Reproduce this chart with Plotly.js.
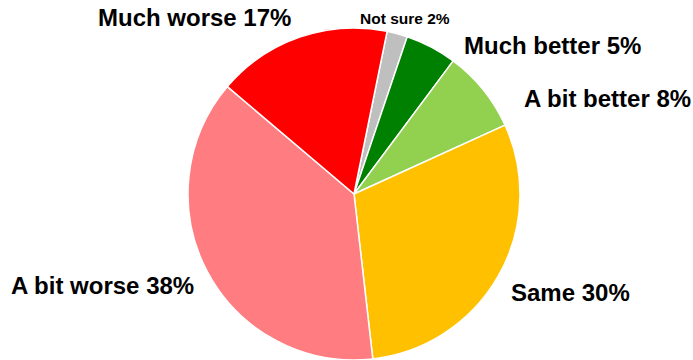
<!DOCTYPE html>
<html>
<head>
<meta charset="utf-8">
<script src="https://cdn.plot.ly/plotly-3.0.1.min.js"></script>
<style>html,body{margin:0;padding:0;background:#fff;}#chart{width:693px;height:360px;}</style>
</head>
<body>
<div id="chart"></div>
<script>
const labels = ["Not sure", "Much better", "A bit better", "Same", "A bit worse", "Much worse"];
const values = [2, 5, 8, 30, 38, 17];
const colors = ["#bfbfbf", "#008000", "#92d050", "#ffc000", "#ff7c80", "#ff0000"];
// label placement (pixels) and font size per label
const labelX = [405, 552.5, 607, 570, 102, 194.5];
const labelY = [18.5, 45, 98.5, 292, 285.5, 17.5];
const labelSize = [15.5, 24, 24, 24, 24, 24];

const W = 693, H = 360;
const cx = 354, cy = 194, r = 166;

const trace = {
  type: "pie",
  labels: labels,
  values: values,
  sort: false,
  direction: "clockwise",
  rotation: 11.5,
  marker: {colors: colors, line: {color: "#ffffff", width: 1.5}},
  textinfo: "none",
  hoverinfo: "label+percent",
  domain: {x: [(cx - r) / W, (cx + r) / W], y: [(H - cy - r) / H, (H - cy + r) / H]},
  showlegend: false
};

const annotations = labels.map((l, i) => ({
  text: "<b>" + l + " " + values[i] + "%</b>",
  x: labelX[i] / W, y: 1 - labelY[i] / H,
  xref: "paper", yref: "paper",
  xanchor: "center", yanchor: "middle",
  showarrow: false,
  font: {family: "Liberation Sans, Arial, sans-serif", size: labelSize[i], color: "#000"}
}));

Plotly.newPlot("chart", [trace], {
  width: W, height: H,
  margin: {l: 0, r: 0, t: 0, b: 0},
  paper_bgcolor: "#fff",
  annotations: annotations
}, {displayModeBar: false, staticPlot: true});
</script>
</body>
</html>
